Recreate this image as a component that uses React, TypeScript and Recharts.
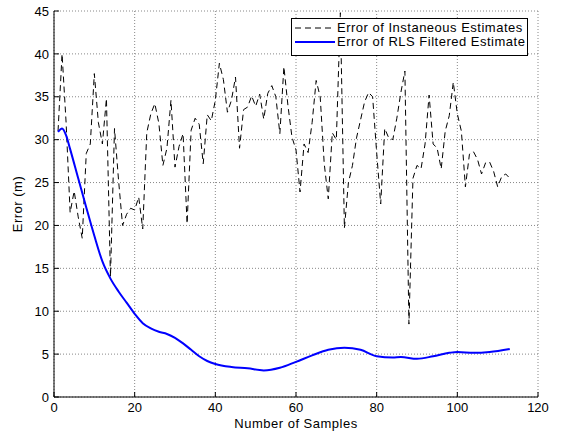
import { LineChart, Line, XAxis, YAxis, CartesianGrid, Legend } from 'recharts'

// instantaneous estimate error, one value per sample (samples 1..113)
const instantError = [
  31, 40, 32, 21.5, 24, 21, 18.5, 28.4, 29.5, 37.7,
  32, 29.5, 34.8, 14, 31.3, 25.3, 20, 21.3, 22, 21.8,
  23.3, 19.6, 30.8, 33, 34.2, 31.9, 27, 29, 34.6, 26.8,
  29.2, 30.7, 20.2, 31.1, 32.5, 31.8, 27.2, 32.9, 32.2, 34.6,
  38.9, 37, 33.2, 34.6, 37.3, 29, 33.5, 33.8, 35.1, 33.9,
  35.3, 32.4, 35.4, 36.3, 35, 30.7, 38.5, 34, 30.3, 28.8,
  23.9, 29.5, 28.5, 32, 36.9, 35, 27.2, 23.1, 30.8, 30,
  44.8, 19.7, 25, 27, 30.2, 32.3, 34.4, 35.5, 35, 28.5,
  22.5, 31.3, 30.2, 30, 32.5, 35.5, 38, 8.5, 25.5, 27,
  26.6, 29.5, 35.2, 29.5, 29, 26.6, 31, 32.8, 36.7, 33,
  31, 24.5, 28.3, 28.6, 27.7, 26, 27.3, 27.4, 26.3, 24.5,
  25.7, 26, 25.5,
]

// RLS filtered estimate error, read at a subset of samples
const rlsSamples = [1, 2, 3, 4, 6, 8, 10, 12, 14, 16, 18, 20, 22, 24, 26, 28, 30, 32, 34, 36, 38, 40, 44, 48, 52, 56, 60, 64, 68, 72, 76, 80, 84, 86, 90, 94, 98, 100, 104, 108, 113]
const rlsError = [30.9, 31.3, 30.5, 28.9, 25.5, 22.1, 18.8, 15.8, 13.8, 12.3, 11.0, 9.7, 8.6, 8.0, 7.6, 7.35, 6.9, 6.25, 5.5, 4.75, 4.2, 3.85, 3.5, 3.35, 3.1, 3.4, 4.1, 4.85, 5.5, 5.75, 5.5, 4.75, 4.6, 4.65, 4.45, 4.75, 5.15, 5.25, 5.15, 5.25, 5.6]

const xTicks = [0, 20, 40, 60, 80, 100, 120]
const yTicks = [0, 5, 10, 15, 20, 25, 30, 35, 40, 45]

const instantData = instantError.map((v, i) => ({ n: i + 1, err: v }))
const rlsData = rlsSamples.map((n, i) => ({ n, err: rlsError[i] }))

const FONT = '"Liberation Sans", Arial, Helvetica, sans-serif'
const tickStyle = { fontFamily: FONT, fontSize: 13, fill: '#000' }

const seriesStyle: Record<string, { stroke: string; width: number; dash?: string }> = {
  'Error of Instaneous Estimates': { stroke: '#000', width: 1, dash: '6 4' },
  'Error of RLS Filtered Estimate': { stroke: '#0000ff', width: 2 },
}

function renderLegend({ payload }: any) {
  return (
    <div
      style={{
        boxSizing: 'border-box',
        width: 237,
        height: 38,
        border: '1px solid #000',
        background: '#fff',
        paddingTop: 2,
        fontFamily: FONT,
        fontSize: 13,
        letterSpacing: 0.5,
        color: '#000',
      }}
    >
      {(payload || []).map((e: any) => {
        const s = seriesStyle[e.value]
        return (
          <div key={e.value} style={{ display: 'flex', alignItems: 'center', height: 14 }}>
            <svg width={44} height={14} style={{ display: 'block' }}>
              <line x1={3} x2={43} y1={7} y2={7} stroke={s.stroke} strokeWidth={s.width} strokeDasharray={s.dash} />
            </svg>
            <span style={{ marginLeft: 1, lineHeight: '14px', whiteSpace: 'nowrap' }}>{e.value}</span>
          </div>
        )
      })}
    </div>
  )
}

function YTitle(props: any) {
  const vb = props.viewBox || { x: 0, y: 11, width: 54, height: 386 }
  const cx = vb.x + vb.width - 37
  const cy = vb.y + vb.height / 2
  return (
    <text x={cx} y={cy} transform={`rotate(-90 ${cx} ${cy})`} textAnchor="middle" dominantBaseline="central"
      style={{ fontFamily: FONT, fontSize: 13, letterSpacing: 0.5 }} fill="#000">
      Error (m)
    </text>
  )
}

function XTitle(props: any) {
  const vb = props.viewBox || { x: 54, y: 397, width: 484, height: 37 }
  return (
    <text x={vb.x + vb.width / 2} y={vb.y + 31} textAnchor="middle"
      style={{ fontFamily: FONT, fontSize: 13, letterSpacing: 0.5 }} fill="#000">
      Number of Samples
    </text>
  )
}

export default function App() {
  return (
    <div style={{ position: 'absolute', left: 0, top: 0, background: '#fff' }}>
      <LineChart width={562} height={434} margin={{ top: 11, right: 24, bottom: 0, left: 0 }}>
        <CartesianGrid stroke="#888" strokeDasharray="1 2" strokeWidth={1} />
        <XAxis
          type="number"
          dataKey="n"
          domain={[0, 120]}
          ticks={xTicks}
          interval={0}
          height={37}
          stroke="#000"
          tickSize={-5}
          tickMargin={11}
          tick={tickStyle}
          label={<XTitle />}
        />
        <YAxis
          type="number"
          domain={[0, 45]}
          ticks={yTicks}
          interval={0}
          width={54}
          stroke="#000"
          tickSize={-5}
          tickMargin={10}
          tick={tickStyle}
          label={<YTitle />}
        />
        <Legend
          content={renderLegend}
          layout="vertical"
          align="center"
          verticalAlign="middle"
          wrapperStyle={{ left: 291, top: 18, width: 237, height: 38 }}
        />
        <Line
          data={instantData}
          dataKey="err"
          name="Error of Instaneous Estimates"
          type="linear"
          stroke="#000"
          strokeWidth={1}
          strokeDasharray="6 4"
          dot={false}
          activeDot={false}
          isAnimationActive={false}
        />
        <Line
          data={rlsData}
          dataKey="err"
          name="Error of RLS Filtered Estimate"
          type="monotone"
          stroke="#0000ff"
          strokeWidth={2}
          dot={false}
          activeDot={false}
          isAnimationActive={false}
        />
      </LineChart>
    </div>
  )
}
